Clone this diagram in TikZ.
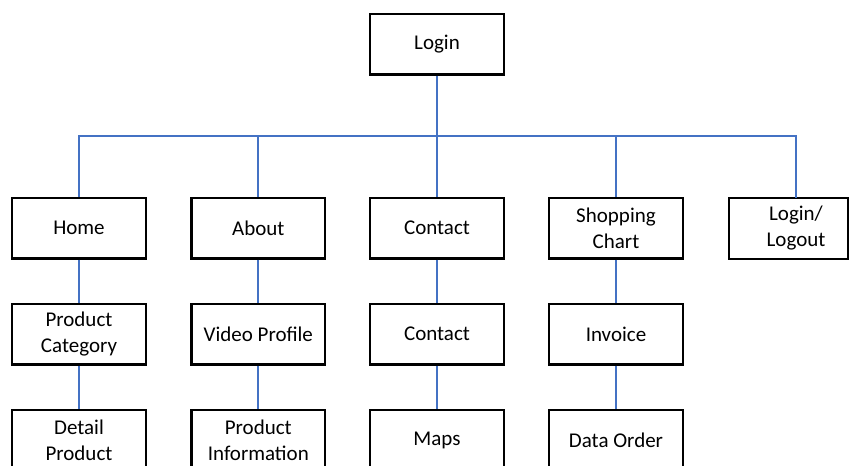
\documentclass[tikz,border=0pt]{standalone}
\usepackage{fontspec}
\setmainfont{Carlito}
\definecolor{linkblue}{HTML}{4472C4}
\begin{document}
\begin{tikzpicture}[x=1pt,y=-1pt,
  boxtext/.style={minimum width=133.5pt, minimum height=60.5pt, inner sep=0pt, align=center, font=\fontsize{21}{26.5}\selectfont},
  box/.style={boxtext, draw=black, line width=2.2pt, fill=white},
  link/.style={draw=linkblue, line width=2pt}]
\useasboundingbox (0,0) rectangle (849,466);
\clip (0,0) rectangle (849,466);
% boxes
\node[box] (login) at (437,44.25) {Login};
\node[box] (home) at (79,228.25) {Home};
\node[box] (about) at (258.3,228.25) {About};
\node[box] (contact) at (437,228.25) {Contact};
\node[box] (shop) at (616,228.25) {Shopping\\Chart};
\node[boxtext] (logio) at (796,228.25) {Login/\\Logout};
\node[box] (prodcat) at (79,334.25) {Product\\Category};
\node[box] (video) at (258.3,334.25) {Video Profile};
\node[box] (contact2) at (437,334.25) {Contact};
\node[box] (invoice) at (616,334.25) {Invoice};
\node[box] (detail) at (79,440.25) {Detail\\Product};
\node[box] (prodinfo) at (258.3,440.25) {Product\\Information};
\node[box] (maps) at (437,440.25) {Maps};
\node[box] (dataorder) at (616,440.25) {Data Order};
\draw[draw=black, line width=2.2pt] (logio.north west) rectangle ([xshift=-14.5pt]logio.south east);
% connectors
\coordinate (bus) at (437,135.7);
\draw[link] (login.south) -- (bus);
\draw[link] (home.north) -- (home.north |- bus) -- (logio.north |- bus) -- (logio.north);
\draw[link] (about.north) -- (about.north |- bus);
\draw[link] (contact.north) -- (contact.north |- bus);
\draw[link] (shop.north) -- (shop.north |- bus);
\draw[link] (home.south) -- (prodcat.north);
\draw[link] (prodcat.south) -- (detail.north);
\draw[link] (about.south) -- (video.north);
\draw[link] (video.south) -- (prodinfo.north);
\draw[link] (contact.south) -- (contact2.north);
\draw[link] (contact2.south) -- (maps.north);
\draw[link] (shop.south) -- (invoice.north);
\draw[link] (invoice.south) -- (dataorder.north);
\end{tikzpicture}
\end{document}
